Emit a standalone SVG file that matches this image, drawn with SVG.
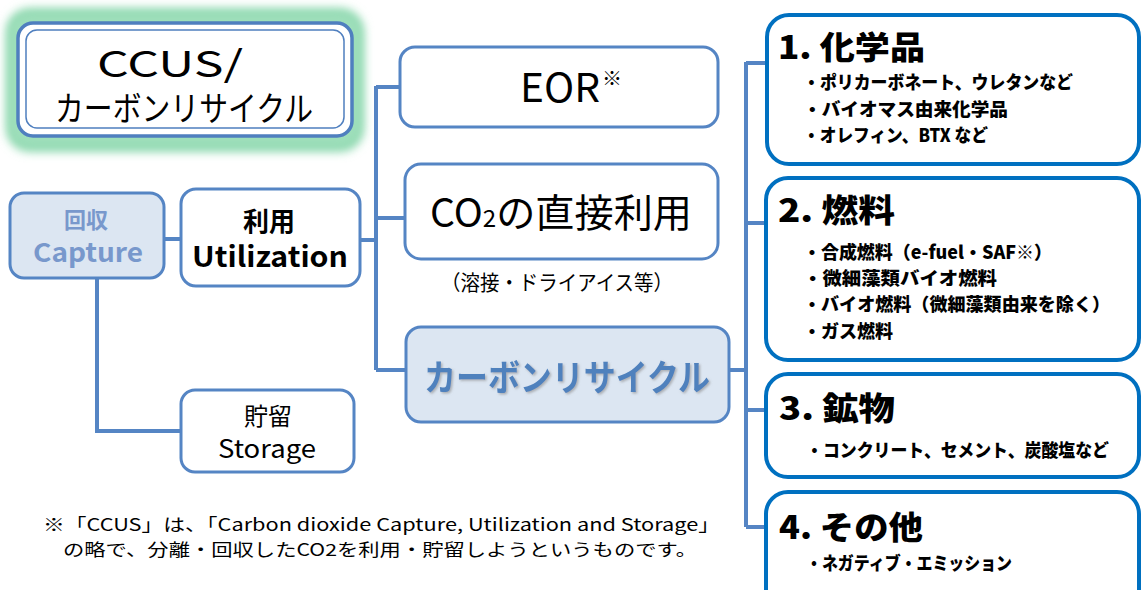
<svg xmlns="http://www.w3.org/2000/svg" width="1141" height="590" viewBox="0 0 1141 590">
<defs>
<filter id="glow" x="-20%" y="-30%" width="140%" height="160%"><feGaussianBlur stdDeviation="5"/></filter>
<filter id="shadow" x="-5%" y="-20%" width="110%" height="140%"><feDropShadow dx="1.5" dy="1.5" stdDeviation="1" flood-color="#888" flood-opacity="0.6"/></filter>
</defs>
<style>
.jp{font-family:"Noto Sans CJK JP","Noto Sans",sans-serif}
.conn{fill:none;stroke:#5585c4;stroke-width:4}
.wbox{fill:#fff;stroke:#5585c4;stroke-width:3}
.bbox{fill:#dce6f2;stroke:#5585c4;stroke-width:3}
.rbox{fill:#fff;stroke:#0070c0;stroke-width:4}
.title{font-family:"Noto Sans CJK JP",sans-serif;font-weight:900;font-size:32px;fill:#000}
.bul{font-family:"Noto Sans CJK JP",sans-serif;font-weight:900;font-size:18px;fill:#000}
.foot{font-family:"Noto Sans CJK JP",sans-serif;font-size:17px;fill:#000}
</style>
<rect width="1141" height="590" fill="#fff"/>
<g id="connectors">
<polyline class="conn" points="165,239 181,239"/>
<polyline class="conn" points="97,278 97,431 181,431"/>
<polyline class="conn" points="360,240 376,240"/>
<polyline class="conn" points="376,86 376,370"/>
<polyline class="conn" points="376,87 401,87"/>
<polyline class="conn" points="376,218 405,218"/>
<polyline class="conn" points="376,370 406,370"/>
<polyline class="conn" points="729,370 746,370"/>
<polyline class="conn" points="746,62 746,527"/>
<polyline class="conn" points="746,63 768,63"/>
<polyline class="conn" points="746,223 766,223"/>
<polyline class="conn" points="746,410 766,410"/>
<polyline class="conn" points="746,527 766,527"/>
</g>
<g id="ccus">
<rect x="6" y="8" width="358" height="144" rx="24" fill="#8fd9b0" filter="url(#glow)"/>
<rect x="10" y="14" width="350" height="131" rx="20" fill="#9fdfbb" filter="url(#glow)"/>
<rect x="18" y="23" width="334" height="113" rx="15" fill="#fff" stroke="#4f7fbf" stroke-width="3.5"/>
<rect x="26" y="30" width="318" height="98" rx="11" fill="#fff" stroke="#4f7fbf" stroke-width="1.5"/>
<text class="jp" x="170" y="77" font-size="36" text-anchor="middle" textLength="146" lengthAdjust="spacingAndGlyphs">CCUS/</text>
<text class="jp" x="184" y="121" font-size="34" text-anchor="middle" textLength="258" lengthAdjust="spacingAndGlyphs">カーボンリサイクル</text>
</g>
<g id="capture">
<rect class="bbox" x="10" y="193" width="154" height="85" rx="14"/>
<text class="jp" x="86" y="228" font-size="22" font-weight="bold" fill="#7898cc" text-anchor="middle">回収</text>
<text class="jp" x="88" y="262" font-size="26" font-weight="bold" fill="#7898cc" text-anchor="middle" textLength="110" lengthAdjust="spacingAndGlyphs">Capture</text>
</g>
<g id="utilization">
<rect class="wbox" x="181" y="189" width="179" height="97" rx="15"/>
<text class="jp" x="269" y="231" font-size="26" font-weight="bold" fill="#000" text-anchor="middle">利用</text>
<text class="jp" x="270" y="267" font-size="28" font-weight="bold" fill="#000" text-anchor="middle" textLength="156" lengthAdjust="spacingAndGlyphs">Utilization</text>
</g>
<g id="storage">
<rect class="wbox" x="181" y="390" width="173" height="82" rx="14"/>
<text class="jp" x="268" y="425" font-size="24" fill="#000" text-anchor="middle">貯留</text>
<text class="jp" x="267" y="458" font-size="25" fill="#000" text-anchor="middle" textLength="98" lengthAdjust="spacingAndGlyphs">Storage</text>
</g>
<g id="eor">
<rect class="wbox" x="400" y="47" width="318" height="80" rx="15"/>
<text class="jp" x="520" y="102" font-size="40" fill="#000" textLength="80" lengthAdjust="spacingAndGlyphs">EOR</text>
<text class="jp" x="602" y="86" font-size="20" fill="#000">※</text>
</g>
<g id="co2">
<rect class="wbox" x="405" y="164" width="313" height="95" rx="16"/>
<text class="jp" x="430" y="227" font-size="39" fill="#000" textLength="262" lengthAdjust="spacingAndGlyphs">CO<tspan font-size="24">2</tspan>の直接利用</text>
<text class="jp" x="441" y="290" font-size="21" fill="#000" textLength="232" lengthAdjust="spacingAndGlyphs">（溶接・ドライアイス等）</text>
</g>
<g id="carbon-recycle">
<rect class="bbox" x="406" y="327" width="323" height="95" rx="15"/>
<text class="jp" x="424" y="391" font-size="36" font-weight="bold" fill="#4f81bd" filter="url(#shadow)" textLength="286" lengthAdjust="spacingAndGlyphs">カーボンリサイクル</text>
</g>
<g id="chem">
<rect class="rbox" x="767" y="15" width="372" height="149" rx="22"/>
<text class="title" x="778" y="59" textLength="147" lengthAdjust="spacingAndGlyphs">1. 化学品</text>
<text class="bul" x="803" y="89" textLength="270" lengthAdjust="spacingAndGlyphs">・ポリカーボネート、ウレタンなど</text>
<text class="bul" x="803" y="116" textLength="205" lengthAdjust="spacingAndGlyphs">・バイオマス由来化学品</text>
<text class="bul" x="803" y="142" textLength="185" lengthAdjust="spacingAndGlyphs">・オレフィン、BTX など</text>
</g>
<g id="fuel">
<rect class="rbox" x="766" y="178" width="373" height="182" rx="22"/>
<text class="title" x="778" y="222" textLength="117" lengthAdjust="spacingAndGlyphs">2. 燃料</text>
<text class="bul" x="803" y="259" textLength="249" lengthAdjust="spacingAndGlyphs">・合成燃料（e-fuel・SAF※）</text>
<text class="bul" x="803" y="285" textLength="194" lengthAdjust="spacingAndGlyphs">・微細藻類バイオ燃料</text>
<text class="bul" x="803" y="311" textLength="307" lengthAdjust="spacingAndGlyphs">・バイオ燃料（微細藻類由来を除く）</text>
<text class="bul" x="803" y="338" textLength="90" lengthAdjust="spacingAndGlyphs">・ガス燃料</text>
</g>
<g id="mineral">
<rect class="rbox" x="766" y="374" width="373" height="103" rx="22"/>
<text class="title" x="779" y="420" textLength="116" lengthAdjust="spacingAndGlyphs">3. 鉱物</text>
<text class="bul" x="806" y="457" textLength="303" lengthAdjust="spacingAndGlyphs">・コンクリート、セメント、炭酸塩など</text>
</g>
<g id="other">
<rect class="rbox" x="766" y="492" width="373" height="120" rx="22"/>
<text class="title" x="779" y="539" textLength="144" lengthAdjust="spacingAndGlyphs">4. その他</text>
<text class="bul" x="806" y="570" textLength="206" lengthAdjust="spacingAndGlyphs">・ネガティブ・エミッション</text>
</g>
<g id="footnote">
<text class="foot" x="43" y="531" textLength="677" lengthAdjust="spacingAndGlyphs">※「CCUS」は、「Carbon dioxide Capture, Utilization and Storage」</text>
<text class="foot" x="63" y="556" textLength="634" lengthAdjust="spacingAndGlyphs">の略で、分離・回収したCO2を利用・貯留しようというものです。</text>
</g>
</svg>
